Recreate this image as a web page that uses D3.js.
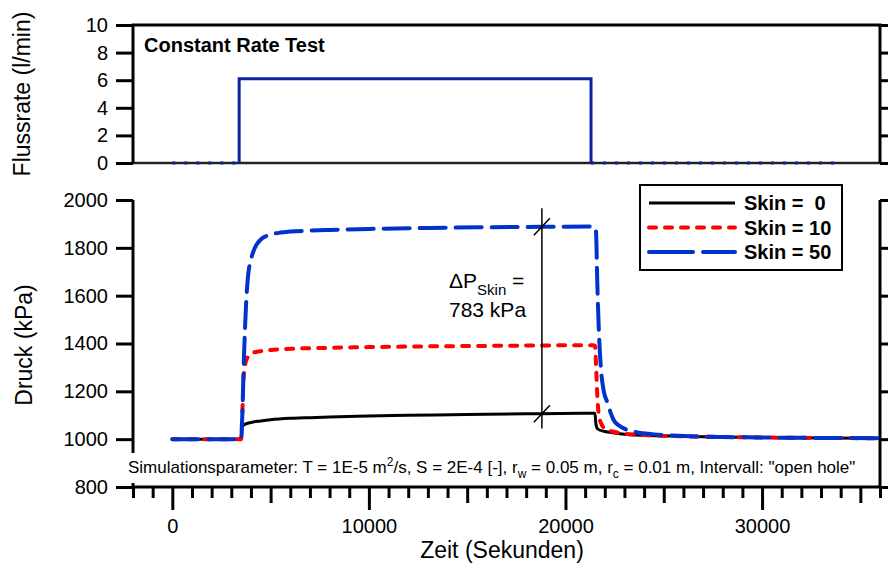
<!DOCTYPE html>
<html>
<head>
<meta charset="utf-8">
<script src="https://cdn.jsdelivr.net/npm/d3@7"></script>
<style>
  body { margin: 0; background: #fff; }
  svg text { font-family: "Liberation Sans", Arial, sans-serif; fill: #000; }
</style>
</head>
<body>
<div id="chart"></div>
<script>
// flow rate (l/min) over time (s)
const flowTime = [0, 3400, 3400, 21300, 21300, 34000];
const flowRate = [0, 0, 6.1, 6.1, 0, 0];

// pressure (kPa)
const skin0Time = [0, 3500, 3550, 3700, 4000, 4500, 5000, 6000, 7000, 8000, 10000, 12000, 15000, 18000, 21500, 21550, 21650, 22000, 22500, 23000, 24000, 26000, 28000, 30000, 33000, 36000];
const skin0Press = [1000, 1000, 1052, 1062, 1070, 1076, 1081, 1087, 1090, 1093, 1097, 1100, 1103, 1106, 1108, 1062, 1042, 1032, 1026, 1021, 1016, 1012, 1009, 1007, 1005, 1004];

const skin10Time = [0, 3500, 3560, 3620, 3700, 3850, 4000, 4500, 5000, 6000, 8000, 10000, 13000, 16000, 19000, 21400, 21500, 21560, 21620, 21700, 21850, 22000, 22500, 23000, 24000, 26000, 28000, 30000, 33000, 36000];
const skin10Press = [1000, 1000, 1100, 1250, 1310, 1345, 1358, 1368, 1373, 1378, 1382, 1385, 1388, 1390, 1392, 1393, 1390, 1300, 1180, 1100, 1060, 1045, 1030, 1023, 1017, 1012, 1009, 1007, 1005, 1004];

const skin50Time = [0, 3500, 3560, 3640, 3750, 3850, 4000, 4200, 4500, 5000, 5500, 6000, 7000, 8000, 10000, 13000, 16000, 19000, 21450, 21550, 21620, 21700, 21800, 21950, 22150, 22300, 22450, 22700, 23100, 23600, 24500, 26000, 28000, 30000, 33000, 36000];
const skin50Press = [1000, 1000, 1100, 1330, 1560, 1680, 1750, 1800, 1835, 1855, 1864, 1868, 1872, 1875, 1879, 1883, 1886, 1888, 1889, 1870, 1650, 1450, 1300, 1200, 1150, 1110, 1080, 1058, 1040, 1029, 1020, 1013, 1009, 1007, 1005, 1004];

const seriesNames = ["Skin =  0", "Skin = 10", "Skin = 50"];
const rateTicks = [0, 2, 4, 6, 8, 10];
const pressTicks = [800, 1000, 1200, 1400, 1600, 1800, 2000];
const timeMajor = [0, 10000, 20000, 30000];
const timeMid = [5000, 15000, 25000, 35000];
const timeMinor = d3.range(-2000, 36001, 1000).filter(t => t % 5000 !== 0);

const annoTime = 18800;
const annoTop = 1965, annoBottom = 1045;
const annoHigh = 1888, annoLow = 1106;

const W = 888, H = 568;
const svg = d3.select("#chart").append("svg").attr("width", W).attr("height", H);

const x = d3.scaleLinear().domain([-2000, 36000]).range([133, 880]);
const yQ = d3.scaleLinear().domain([0, 10]).range([163, 25]);
const yP = d3.scaleLinear().domain([800, 2000]).range([487, 200]);

function styleAxis(g) {
  g.select(".domain").remove();
  g.selectAll("line").attr("stroke", "#000").attr("stroke-width", 3);
  g.selectAll("text").attr("font-size", 20).attr("fill", "#000");
}

function hline(y, x1, x2, color, w) {
  svg.append("line").attr("x1", x1).attr("x2", x2).attr("y1", y).attr("y2", y)
    .attr("stroke", color).attr("stroke-width", w);
}
function vline(xp, y1, y2, color, w) {
  svg.append("line").attr("x1", xp).attr("x2", xp).attr("y1", y1).attr("y2", y2)
    .attr("stroke", color).attr("stroke-width", w);
}

// ---- top panel
svg.append("g").attr("transform", `translate(${x.range()[0]},0)`)
  .call(d3.axisLeft(yQ).tickValues(rateTicks).tickSize(17).tickPadding(8).tickFormat(d3.format("d")))
  .call(styleAxis);
svg.append("g").attr("transform", `translate(${x.range()[1]},0)`)
  .call(d3.axisRight(yQ).tickValues(rateTicks).tickSize(17).tickFormat(""))
  .call(styleAxis);
hline(yQ(0), x.range()[0], x.range()[1], "#222", 2.5);
hline(yQ(10), x.range()[0] - 1.5, x.range()[1] + 1.5, "#000", 3);
vline(x.range()[0], yQ(10), yQ(0), "#000", 3);
vline(x.range()[1], yQ(10), yQ(0), "#000", 3);

const flowPts = d3.zip(flowTime, flowRate);
const qLine = d3.line().x(d => x(d[0])).y(d => yQ(d[1]));
// zero-rate stretches look dotted in the original
[flowPts.slice(0, 2), flowPts.slice(4)].forEach(seg => {
  svg.append("path").attr("d", qLine(seg))
    .attr("fill", "none").attr("stroke", "#0a22a0").attr("stroke-width", 3)
    .attr("stroke-dasharray", "3,9");
});
svg.append("path").attr("d", qLine(flowPts.slice(1, 5)))
  .attr("fill", "none").attr("stroke", "#0a22a0").attr("stroke-width", 3);

svg.append("text").attr("x", 144).attr("y", 52)
  .attr("font-size", 20).attr("font-weight", "bold").text("Constant Rate Test");

svg.append("text").attr("transform", "translate(30,94) rotate(-90)")
  .attr("text-anchor", "middle").attr("font-size", 23).text("Flussrate (l/min)");

// ---- bottom panel
svg.append("g").attr("transform", `translate(${x.range()[0]},0)`)
  .call(d3.axisLeft(yP).tickValues(pressTicks).tickSize(17).tickPadding(8).tickFormat(d3.format("d")))
  .call(styleAxis);
svg.append("g").attr("transform", `translate(${x.range()[1]},0)`)
  .call(d3.axisRight(yP).tickValues(pressTicks).tickSize(17).tickFormat(""))
  .call(styleAxis);

const xAxisY = yP(800);
svg.append("g").attr("transform", `translate(0,${xAxisY})`)
  .call(d3.axisBottom(x).tickValues(timeMinor).tickSize(11).tickFormat(""))
  .call(styleAxis);
svg.append("g").attr("transform", `translate(0,${xAxisY})`)
  .call(d3.axisBottom(x).tickValues(timeMid).tickSize(16).tickFormat(""))
  .call(styleAxis);
svg.append("g").attr("transform", `translate(0,${xAxisY})`)
  .call(d3.axisBottom(x).tickValues(timeMajor).tickSize(23).tickPadding(9).tickFormat(d3.format("d")))
  .call(styleAxis);

vline(x.range()[0], yP(2000), yP(800), "#000", 3);
vline(x.range()[1], yP(2000), yP(800), "#000", 3);
hline(xAxisY, x.range()[0], x.range()[1], "#000", 3);

svg.append("text").attr("transform", "translate(32,345) rotate(-90)")
  .attr("text-anchor", "middle").attr("font-size", 23).text("Druck (kPa)");
svg.append("text").attr("x", 502).attr("y", 558)
  .attr("text-anchor", "middle").attr("font-size", 23).text("Zeit (Sekunden)");

// pressure curves
const pLine = d3.line().x(d => x(d[0])).y(d => yP(d[1])).curve(d3.curveMonotoneX);
const styles = [
  { color: "#000", width: 3, dash: null, cap: "butt" },
  { color: "#ff0000", width: 4, dash: "7,9", cap: "round" },
  { color: "#0033cc", width: 4, dash: "26,10", cap: "round" },
];
const series = [
  d3.zip(skin0Time, skin0Press),
  d3.zip(skin10Time, skin10Press),
  d3.zip(skin50Time, skin50Press),
];
series.forEach((s, i) => {
  svg.append("path").attr("d", pLine(s))
    .attr("fill", "none")
    .attr("stroke", styles[i].color)
    .attr("stroke-width", styles[i].width)
    .attr("stroke-dasharray", styles[i].dash)
    .attr("stroke-linecap", styles[i].cap)
    .attr("stroke-linejoin", "round");
});

// annotation
const ax = x(annoTime);
vline(ax, yP(annoTop), yP(annoBottom), "#000", 1.5);
[annoHigh, annoLow].forEach(v => {
  svg.append("line")
    .attr("x1", ax - 8).attr("y1", yP(v) + 8.5)
    .attr("x2", ax + 8).attr("y2", yP(v) - 8.5)
    .attr("stroke", "#000").attr("stroke-width", 1.5);
});
const dp = svg.append("text").attr("x", 449).attr("y", 288).attr("font-size", 21);
dp.append("tspan").text("\u0394P");
dp.append("tspan").attr("font-size", 15).attr("dy", 7).text("Skin");
dp.append("tspan").attr("dy", -7).text(" =");
svg.append("text").attr("x", 449).attr("y", 317).attr("font-size", 21).text("783 kPa");

// simulation parameter line
svg.append("rect").attr("x", 121).attr("y", 453).attr("width", 748).attr("height", 30).attr("fill", "#fff");
const sim = svg.append("text").attr("x", 128).attr("y", 473).attr("font-size", 17);
sim.append("tspan").text("Simulationsparameter: T = 1E-5 m");
sim.append("tspan").attr("font-size", 12).attr("dy", -7).text("2");
sim.append("tspan").attr("dy", 7).text("/s, S = 2E-4 [-], r");
sim.append("tspan").attr("font-size", 12).attr("dy", 5).text("w");
sim.append("tspan").attr("dy", -5).text(" = 0.05 m, r");
sim.append("tspan").attr("font-size", 12).attr("dy", 5).text("c");
sim.append("tspan").attr("dy", -5).text(" = 0.01 m, Intervall: \"open hole\"");

// legend
const lg = svg.append("g").attr("transform", "translate(640,185)");
lg.append("rect").attr("width", 202).attr("height", 85)
  .attr("fill", "#fff").attr("stroke", "#000").attr("stroke-width", 2);
seriesNames.forEach((name, i) => {
  const yy = 18 + i * 24.5;
  lg.append("line").attr("x1", 9).attr("x2", 95).attr("y1", yy).attr("y2", yy)
    .attr("stroke", styles[i].color).attr("stroke-width", styles[i].width)
    .attr("stroke-dasharray", i === 2 ? "44,10" : styles[i].dash)
    .attr("stroke-linecap", styles[i].cap);
  lg.append("text").attr("x", 104).attr("y", yy).attr("dy", "0.36em")
    .attr("font-size", 20).attr("font-weight", "bold")
    .style("white-space", "pre").text(name);
});
</script>
</body>
</html>
